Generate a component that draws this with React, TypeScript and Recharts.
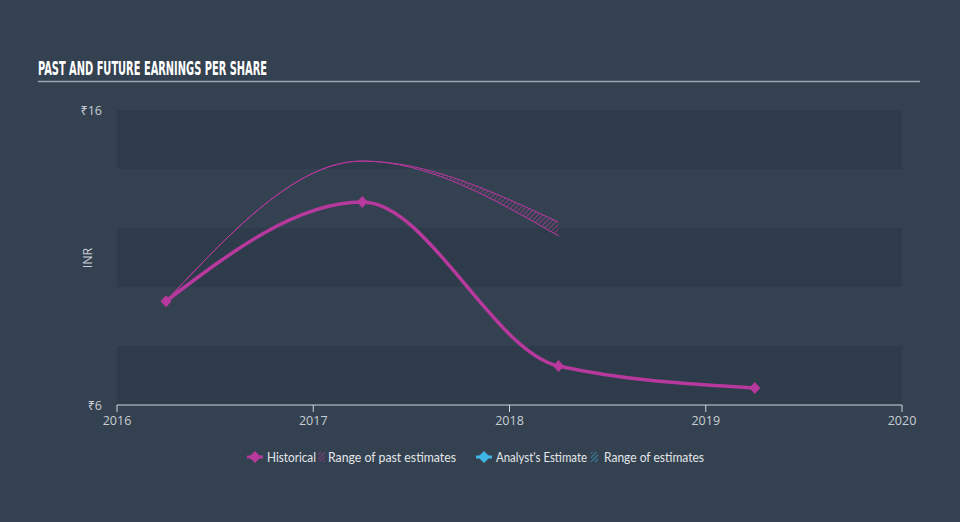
import React from 'react';
import { ComposedChart, Line, Area, XAxis, YAxis, ReferenceArea } from 'recharts';

// values (fiscal year ends ~ end of March)
const years = [2016.25, 2017.25, 2018.25, 2019.25];
const historicalEps = [9.52, 12.88, 7.32, 6.58];
const pastEstimateLow = [9.52, 14.27, 11.73, null];
const pastEstimateHigh = [9.52, 14.27, 12.2, null];
const xTicks = [2016, 2017, 2018, 2019, 2020];
const yTicks = [6, 16];
const darkBands = [
  [6, 8],
  [10, 12],
  [14, 16],
];

const MAGENTA = '#b7399d';
const CYAN = '#3fb6e3';
const BG = '#344150';
const BAND = '#2e3b4a';
const TEXT = '#c9ced4';
const TICK_FONT = "'Open Sans', 'Noto Sans', sans-serif";

const rows = years.map((year, i) => ({
  year,
  eps: historicalEps[i],
  range:
    pastEstimateLow[i] != null ? [pastEstimateLow[i], pastEstimateHigh[i]] : null,
}));

const Diamond = (props: any) => {
  const { cx, cy, index } = props;
  if (cx == null || cy == null) return null;
  return (
    <path
      key={`d-${index}`}
      d={`M${cx},${cy - 6} L${cx + 5.5},${cy} L${cx},${cy + 6} L${cx - 5.5},${cy} Z`}
      fill={MAGENTA}
    />
  );
};

const XTick = (props: any) => {
  const { x, y, payload } = props;
  return (
    <text x={x} y={y + 11} textAnchor="middle" fill={TEXT} fontSize={12.5} fontFamily={TICK_FONT}>
      {payload.value}
    </text>
  );
};

const YTick = (props: any) => {
  const { x, y, payload } = props;
  return (
    <text x={x} y={y + 4.5} textAnchor="end" fill={TEXT} fontSize={12.5} fontFamily={TICK_FONT}>
      {'₹' + payload.value}
    </text>
  );
};

function Overlay() {
  const font = "'Lato', 'Noto Sans', sans-serif";
  return (
    <svg
      width={960}
      height={522}
      style={{ position: 'absolute', left: 0, top: 0, pointerEvents: 'none' }}
    >
      <defs>
        <pattern id="legPast" width="3" height="3" patternUnits="userSpaceOnUse" patternTransform="rotate(45)">
          <line x1="0" y1="0" x2="0" y2="3" stroke={MAGENTA} strokeWidth="1.2" />
        </pattern>
        <pattern id="legFut" width="3" height="3" patternUnits="userSpaceOnUse" patternTransform="rotate(45)">
          <line x1="0" y1="0" x2="0" y2="3" stroke={CYAN} strokeWidth="1.2" />
        </pattern>
      </defs>
      <text
        x={38}
        y={74.5}
        fill="#ffffff"
        fontSize={19.5}
        fontWeight="bold"
        fontFamily="'Liberation Sans Narrow', 'DejaVu Sans Condensed', sans-serif"
        textLength={229}
        lengthAdjust="spacingAndGlyphs"
      >
        PAST AND FUTURE EARNINGS PER SHARE
      </text>
      <line x1={38} x2={920} y1={81.5} y2={81.5} stroke="#9aa3ad" strokeWidth={1.5} />

      <text
        x={87}
        y={258}
        transform="rotate(-90 87 258)"
        textAnchor="middle"
        dominantBaseline="central"
        fill={TEXT}
        fontSize={12.5}
        fontFamily={TICK_FONT}
      >
        INR
      </text>

      {/* legend */}
      <line x1={247} x2={263} y1={457} y2={457} stroke={MAGENTA} strokeWidth={3} />
      <path d="M255,451 L261,457 L255,463 L249,457 Z" fill={MAGENTA} />
      <text x={267} y={461.5} fill="#e3e6ea" fontSize={12.5} fontFamily={font} textLength={49} lengthAdjust="spacingAndGlyphs">
        Historical
      </text>
      <rect x={318} y={452} width={7} height={10} fill="url(#legPast)" />
      <text x={328} y={461.5} fill="#e3e6ea" fontSize={12.5} fontFamily={font} textLength={128} lengthAdjust="spacingAndGlyphs">
        Range of past estimates
      </text>

      <line x1={476} x2={492} y1={457} y2={457} stroke={CYAN} strokeWidth={3} />
      <path d="M484,451 L490,457 L484,463 L478,457 Z" fill={CYAN} />
      <text x={496} y={461.5} fill="#e3e6ea" fontSize={12.5} fontFamily={font} textLength={91} lengthAdjust="spacingAndGlyphs">
        Analyst's Estimate
      </text>
      <rect x={591} y={452} width={7} height={10} fill="url(#legFut)" />
      <text x={604} y={461.5} fill="#e3e6ea" fontSize={12.5} fontFamily={font} textLength={100} lengthAdjust="spacingAndGlyphs">
        Range of estimates
      </text>
    </svg>
  );
}

export default function App() {
  return (
    <div
      style={{
        position: 'absolute',
        left: 0,
        top: 0,
        width: 960,
        height: 522,
        background: BG,
        overflow: 'hidden',
      }}
    >
      <ComposedChart
        width={960}
        height={522}
        data={rows}
        margin={{ top: 110, right: 58, bottom: 87, left: 0 }}
      >
        <defs>
          <pattern id="pastHatch" width="3.5" height="3.5" patternUnits="userSpaceOnUse" patternTransform="rotate(45)">
            <line x1="0" y1="0" x2="0" y2="3.5" stroke={MAGENTA} strokeWidth="1.2" />
          </pattern>
        </defs>
        {darkBands.map(([lo, hi]) => (
          <ReferenceArea
            key={lo}
            y1={lo}
            y2={hi}
            fill={BAND}
            fillOpacity={1}
            stroke="none"
            ifOverflow="hidden"
          />
        ))}
        <XAxis
          dataKey="year"
          type="number"
          domain={[2016, 2020]}
          ticks={xTicks}
          allowDataOverflow
          height={30}
          stroke="#cfd5db"
          tickSize={7}
          tickMargin={2}
          tick={<XTick />}
        />
        <YAxis
          type="number"
          domain={[6, 16]}
          ticks={yTicks}
          width={117}
          axisLine={false}
          tickLine={false}
          tickSize={0}
          tickMargin={15}
          tick={<YTick />}
        />
        <Area
          dataKey="range"
          type="monotone"
          stroke={MAGENTA}
          strokeWidth={1}
          fill="url(#pastHatch)"
          fillOpacity={1}
          dot={false}
          activeDot={false}
          isAnimationActive={false}
        />
        <Line
          dataKey="eps"
          type="monotone"
          stroke={MAGENTA}
          strokeWidth={3.5}
          dot={<Diamond />}
          activeDot={false}
          isAnimationActive={false}
        />
      </ComposedChart>
      <Overlay />
    </div>
  );
}
